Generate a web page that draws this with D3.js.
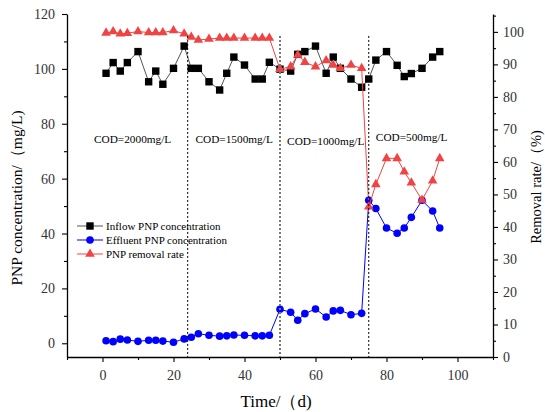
<!DOCTYPE html>
<html>
<head>
<meta charset="utf-8">
<script src="https://cdn.jsdelivr.net/npm/d3@7/dist/d3.min.js"></script>
<style>
  html, body { margin: 0; padding: 0; background: #fff; }
  svg { display: block; }
  text { font-family: "Liberation Serif", "Times New Roman", serif; }
</style>
</head>
<body>
<svg id="chart" width="545" height="412"></svg>
<script>
// ---- Data ----
const days = [1,3,5,7,10,13,15,17,20,23,25,27,30,33,35,37,40,43,45,47,50,53,55,57,60,63,65,67,70,73,75,77,80,83,85,87,90,93,95];
const inflowPNP = [98.4,102.3,99.2,102.3,106.3,95.3,99.2,94.4,100.2,108.3,100.2,100.2,95.3,92.3,98.4,104.3,101.4,96.3,96.3,102.4,
                   99.9,99.2,105.3,106.3,108.3,98.4,104.3,100.2,96.3,93.3,96.3,103.2,106.3,101.3,97.2,98.3,100.2,104.3,106.3];
const effluentPNP = [0.9,0.6,1.5,1.2,0.7,1.1,1.1,0.8,0.4,1.6,2.2,3.5,2.9,2.6,2.7,3.0,2.9,2.7,2.7,2.9,
                     12.4,11.3,8.4,10.8,12.5,9.6,11.8,12.0,10.4,10.9,52.1,49.1,42.0,40.1,42.0,45.9,52.1,48.2,42.0];
const removalRate = [99.7,100.1,99.4,99.6,100.1,99.8,99.8,99.8,100.4,99.4,98.4,97.5,97.8,98.1,98.1,98.1,98.1,98.1,98.1,98.1,
                     88.5,89.3,92.9,90.7,89.3,91.2,89.8,88.8,89.8,88.8,46.2,53.1,61.1,61.1,57.0,53.6,48.3,54.2,61.1];
const phaseBoundaries = [24, 50, 75];
const phaseLabels = ["COD=2000mg/L", "COD=1500mg/L", "COD=1000mg/L", "COD=500mg/L"];
const phaseLabelPos = [[-2.4, 73], [26.2, 73], [52, 72.3], [77, 73.8]];
const xTicks = [0, 20, 40, 60, 80, 100];
const yLeftTicks = [0, 20, 40, 60, 80, 100, 120];
const yRightTicks = [0, 10, 20, 30, 40, 50, 60, 70, 80, 90, 100];
const legendLabels = ["Inflow PNP concentration", "Effluent PNP concentration", "PNP removal rate"];

// ---- Setup ----
const svg = d3.select("#chart");
const x = d3.scaleLinear().domain([-10, 110]).range([67, 493]);
const yL = d3.scaleLinear().domain([-5, 120]).range([357, 14]);
const yR = d3.scaleLinear().domain([0, 105.5]).range([357, 14]);

const RED = "#f04444", BLUE = "#0000ff", BLACK = "#000";
const tickColor = "#333";

function styleAxis(g) {
  g.selectAll("path.domain").attr("stroke", "#000").attr("stroke-width", 1.3);
  g.selectAll(".tick line").attr("stroke", "#000").attr("stroke-width", 1.1);
  g.selectAll(".tick text").attr("fill", tickColor).attr("font-size", 14)
    .attr("font-family", "'Liberation Serif', serif");
}

// X axis
const gx = svg.append("g").attr("transform", "translate(0,357)")
  .call(d3.axisBottom(x).tickValues(xTicks).tickSize(5).tickSizeOuter(0).tickPadding(8));
styleAxis(gx);
const gxm = svg.append("g").attr("transform", "translate(0,357)")
  .call(d3.axisBottom(x).tickValues(d3.range(-10, 111, 20)).tickSize(3).tickSizeOuter(0).tickFormat(""));
styleAxis(gxm); gxm.select("path.domain").remove();

// Left axis
const gl = svg.append("g").attr("transform", "translate(67,0)")
  .call(d3.axisLeft(yL).tickValues(yLeftTicks).tickSize(5).tickSizeOuter(0).tickPadding(7));
styleAxis(gl);
const glm = svg.append("g").attr("transform", "translate(67,0)")
  .call(d3.axisLeft(yL).tickValues(d3.range(10, 111, 20)).tickSize(3).tickFormat(""));
styleAxis(glm); glm.select("path.domain").remove();

// Right axis
const gr = svg.append("g").attr("transform", "translate(493,0)")
  .call(d3.axisRight(yR).tickValues(yRightTicks).tickSize(5).tickSizeOuter(0).tickPadding(5));
styleAxis(gr);
const grm = svg.append("g").attr("transform", "translate(493,0)")
  .call(d3.axisRight(yR).tickValues(d3.range(5, 106, 10)).tickSize(3).tickFormat(""));
styleAxis(grm); grm.select("path.domain").remove();

// Axis titles
svg.append("text").attr("transform", "translate(22,198) rotate(-90)")
  .attr("text-anchor", "middle").attr("font-size", 15.5).attr("fill", "#000")
  .text("PNP concentration/（mg/L)");
svg.append("text").attr("transform", "translate(541,187) rotate(-90)")
  .attr("text-anchor", "middle").attr("font-size", 14.5).attr("fill", "#000")
  .text("Removal rate/（%)");
svg.append("text").attr("x", 276).attr("y", 407)
  .attr("text-anchor", "middle").attr("font-size", 17).attr("fill", "#000")
  .text("Time/（d)");

// ---- Series ----
const black = days.map((d, i) => ({t: d, v: inflowPNP[i]}));
const blue = days.map((d, i) => ({t: d, v: effluentPNP[i]}));
const red = days.map((d, i) => ({t: d, v: removalRate[i]}));

const lineL = d3.line().x(d => x(d.t)).y(d => yL(d.v));
const lineR = d3.line().x(d => x(d.t)).y(d => yR(d.v));

svg.append("path").datum(black).attr("d", lineL).attr("fill", "none")
  .attr("stroke", "#555").attr("stroke-width", 1);
svg.append("g").selectAll("rect").data(black).join("rect")
  .attr("x", d => x(d.t) - 3.7).attr("y", d => yL(d.v) - 3.7)
  .attr("width", 7.4).attr("height", 7.4).attr("fill", BLACK);

svg.append("path").datum(blue).attr("d", lineL).attr("fill", "none")
  .attr("stroke", BLUE).attr("stroke-width", 1);
svg.append("g").selectAll("circle").data(blue).join("circle")
  .attr("cx", d => x(d.t)).attr("cy", d => yL(d.v)).attr("r", 3.8).attr("fill", BLUE);

const tri = d3.symbol().type(d3.symbolTriangle).size(40);
svg.append("path").datum(red).attr("d", lineR).attr("fill", "none")
  .attr("stroke", RED).attr("stroke-width", 1);
svg.append("g").selectAll("path").data(red).join("path")
  .attr("transform", d => `translate(${x(d.t)},${yR(d.v)})`)
  .attr("d", tri).attr("fill", RED);

// Phase boundary lines
phaseBoundaries.forEach((b, i) => {
  svg.append("line")
    .attr("x1", x(b)).attr("x2", x(b)).attr("y1", yL(112)).attr("y2", yL(-5))
    .attr("stroke", i === 1 ? "#777" : "#000")
    .attr("stroke-width", i === 1 ? 2 : 1)
    .attr("stroke-dasharray", "2,2");
});

// Phase labels
phaseLabels.forEach((s, i) => {
  svg.append("text").attr("x", x(phaseLabelPos[i][0])).attr("y", yL(phaseLabelPos[i][1]))
    .attr("font-size", 11.3).attr("fill", "#000").text(s);
});

// Legend
const legend = svg.append("g");
const legendY = [226, 240, 254];
const legendColors = ["#555", BLUE, RED];
legendLabels.forEach((s, i) => {
  const yy = legendY[i];
  legend.append("line").attr("x1", 77).attr("x2", 103).attr("y1", yy).attr("y2", yy)
    .attr("stroke", legendColors[i]).attr("stroke-width", 1);
  if (i === 0) {
    legend.append("rect").attr("x", 90 - 3.7).attr("y", yy - 3.7).attr("width", 7.4).attr("height", 7.4).attr("fill", BLACK);
  } else if (i === 1) {
    legend.append("circle").attr("cx", 90).attr("cy", yy).attr("r", 3.8).attr("fill", BLUE);
  } else {
    legend.append("path").attr("transform", `translate(90,${yy})`).attr("d", tri).attr("fill", RED);
  }
  legend.append("text").attr("x", 106).attr("y", yy + 4).attr("font-size", 11).attr("fill", "#000").text(s);
});
</script>
</body>
</html>
